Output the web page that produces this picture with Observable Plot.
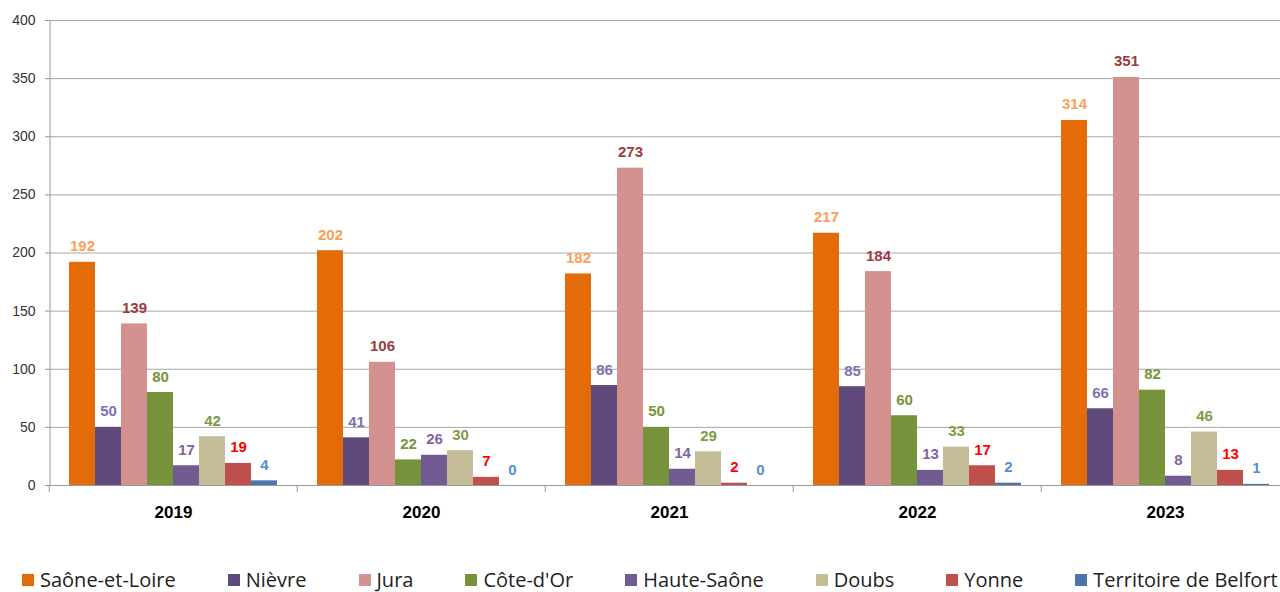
<!DOCTYPE html>
<html>
<head>
<meta charset="utf-8">
<script src="https://cdn.jsdelivr.net/npm/d3@7"></script>
<script src="https://cdn.jsdelivr.net/npm/@observablehq/plot@0.6"></script>
<style>
  html, body { margin: 0; padding: 0; background: #fff; width: 1280px; height: 592px; overflow: hidden; }
  #wrap { position: relative; width: 1280px; height: 592px; }
  #chart { position: absolute; left: 0; top: 0; width: 1280px; height: 540px; overflow: hidden; }
  #chart svg { max-width: none !important; }
  #legend { position: absolute; left: 22px; top: 570px; display: flex; gap: 52px; white-space: nowrap;
            font-family: "Open Sans", "Liberation Sans", sans-serif; font-size: 20px; color: #222; line-height: 19px; }
  .item { display: flex; align-items: center; gap: 6px; }
  .sw { width: 12px; height: 12px; display: inline-block; }
</style>
</head>
<body>
<div id="wrap"><div id="chart"></div><div id="legend"></div></div>
<script>
const years = ["2019", "2020", "2021", "2022", "2023"];
const departments = ["Saône-et-Loire", "Nièvre", "Jura", "Côte-d'Or", "Haute-Saône", "Doubs", "Yonne", "Territoire de Belfort"];

const saoneEtLoire = [192, 202, 182, 217, 314];
const nievre       = [50, 41, 86, 85, 66];
const jura         = [139, 106, 273, 184, 351];
const coteDOr      = [80, 22, 50, 60, 82];
const hauteSaone   = [17, 26, 14, 13, 8];
const doubs        = [42, 30, 29, 33, 46];
const yonne        = [19, 7, 2, 17, 13];
const belfort      = [4, 0, 0, 2, 1];

const yTicks = [0, 50, 100, 150, 200, 250, 300, 350, 400];

const barColors   = ["#E36C09", "#604A7B", "#D39190", "#77933C", "#725B92", "#C4BD97", "#C0504D", "#4A76AE"];
const labelColors = ["#F9A05A", "#7876B0", "#9B3B3B", "#77933C", "#8064A2", "#7F9B45", "#FF0000", "#558ED5"];

const series = [saoneEtLoire, nievre, jura, coteDOr, hauteSaone, doubs, yonne, belfort];
const data = [];
departments.forEach((dept, i) => {
  years.forEach((year, j) => {
    data.push({dept, year, value: series[i][j], labelColor: labelColors[i]});
  });
});

const W = 1290, ML = 47, MR = 0;
const PAD_OUTER = 0.74;
const groupStep = (W - ML - MR) / years.length;
const barStep = groupStep / (departments.length + 2 * PAD_OUTER);

const plot = Plot.plot({
  width: W,
  height: 532,
  marginLeft: ML,
  marginRight: MR,
  marginTop: 20,
  marginBottom: 47,
  style: {fontFamily: "'Liberation Sans', Arial, sans-serif", background: "white", overflow: "visible", maxWidth: "none"},
  fx: {domain: years, padding: 0, label: null},
  x: {domain: departments, paddingInner: 0, paddingOuter: PAD_OUTER, axis: null},
  y: {domain: [0, 400], label: null},
  color: {domain: departments, range: barColors},
  marks: [
    Plot.gridY(yTicks, {stroke: "#a6a6a6", strokeOpacity: 1, strokeWidth: 1}),
    // y-axis domain line, only in the first year's panel, at its left edge
    Plot.ruleX([{year: years[0], dept: departments[0]}], {fx: "year", x: "dept", dx: -(PAD_OUTER + 0.5) * barStep, stroke: "#999"}),
    Plot.axisY(yTicks, {tickSize: 4, tickPadding: 10, fontSize: 14, fill: "#333", stroke: "#999", label: null}),
    Plot.ruleY([0], {stroke: "#999"}),
    Plot.axisFx({anchor: "bottom", tickSize: 7, tickFormat: () => "", dx: -groupStep / 2, stroke: "#999", label: null}),
    Plot.axisFx({anchor: "bottom", tickSize: 0, tickPadding: 20, fontSize: 17, fontWeight: "bold", fill: "#000", label: null}),
    Plot.barY(data, {fx: "year", x: "dept", y: "value", fill: "dept"}),
    Plot.text(data, {fx: "year", x: "dept", y: "value", text: d => String(d.value), fill: "labelColor",
                     lineAnchor: "bottom", dy: -11, fontSize: 15, fontWeight: "bold"})
  ]
});
document.getElementById("chart").appendChild(plot);

const legend = d3.select("#legend");
departments.forEach((dept, i) => {
  const item = legend.append("div").attr("class", "item");
  item.append("span").attr("class", "sw").style("background", barColors[i]);
  item.append("span").text(dept);
});
</script>
</body>
</html>
